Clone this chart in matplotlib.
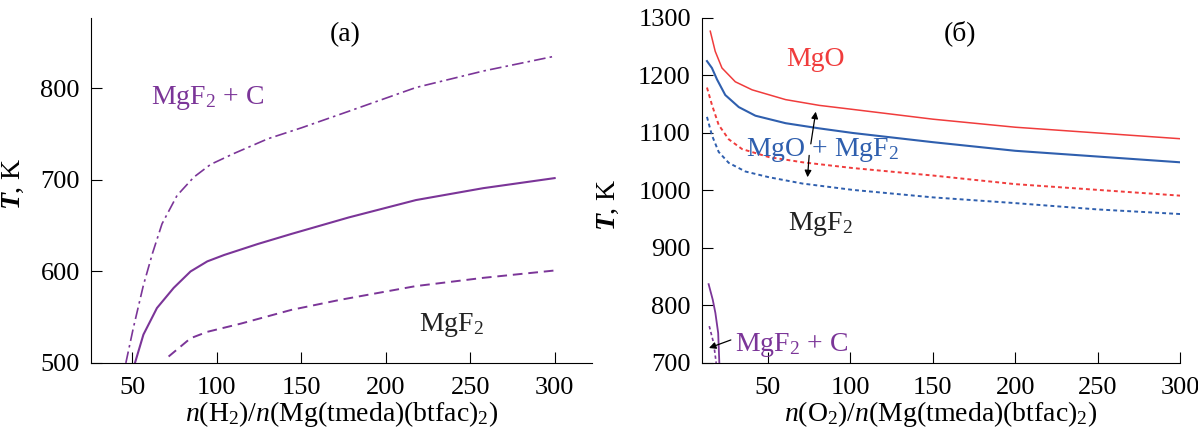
import numpy as np
import matplotlib
matplotlib.use('Agg')
import matplotlib.pyplot as plt

plt.rcParams['font.family'] = ['Liberation Serif', 'DejaVu Serif']
plt.rcParams['mathtext.fontset'] = 'custom'
plt.rcParams['mathtext.rm'] = 'Liberation Serif'
plt.rcParams['mathtext.it'] = 'Liberation Serif:italic'
plt.rcParams['mathtext.bf'] = 'Liberation Serif:italic:bold'
plt.rcParams['font.size'] = 20

PURPLE = '#7b3598'
RED = '#f03c3c'
BLUE = '#2f5fae'

# panel (a): H2
a_upper_x = [46.2, 50.6, 56.6, 62, 67.6, 76.5, 86.4, 96.4, 110.3, 130.3, 150.2, 178.1, 217.9, 257.7, 299.5]
a_upper_T = [500, 538, 585, 620, 652, 683, 703, 717, 729, 745, 757, 775, 801, 819, 835]
a_mid_x = [51.6, 56.6, 64.6, 74.5, 84.5, 94.4, 104.4, 124.3, 144.2, 178.1, 217.9, 257.7, 300]
a_mid_T = [500, 531, 560, 582, 600, 611, 618, 630, 641, 659, 678, 691, 702]
a_low_x = [71.5, 84.5, 94.4, 114.3, 144.2, 173.1, 217.9, 257.7, 299.8]
a_low_T = [507, 527, 534, 543, 558, 569, 584, 593, 601]

# panel (б): O2
b_mgo_x = [15.0, 18.0, 22.1, 30.2, 40.4, 60.7, 81.1, 101.4, 150, 200, 250, 300]
b_mgo_T = [1277, 1242, 1213, 1189, 1175, 1158, 1148, 1141, 1124, 1110, 1100, 1090]
b_mix_x = [13.0, 16.0, 19.1, 24.1, 32.3, 42.4, 60.7, 81.1, 101.4, 150, 200, 250, 300]
b_mix_T = [1225, 1213, 1193, 1166, 1145, 1130, 1117, 1108, 1100, 1084, 1069, 1059, 1049]
b_red_dot_x = [13.0, 16.0, 20.1, 26.2, 34.3, 50.6, 71.0, 101.4, 150, 200, 250, 300]
b_red_dot_T = [1179, 1149, 1114, 1089, 1072, 1058, 1049, 1039, 1026, 1011, 1001, 991]
b_blue_dot_x = [13.0, 16.0, 20.1, 26.2, 36.3, 50.6, 71.0, 101.4, 150, 200, 250, 300]
b_blue_dot_T = [1128, 1096, 1067, 1048, 1033, 1023, 1012, 1001, 988, 978, 967, 959]
b_c_x = [14, 16.5, 18.1, 19.8, 20.5]
b_c_T = [837, 810, 787, 752, 700]
b_c_dot_x = [14.4, 17, 18.6]
b_c_dot_T = [764, 735, 700]


def style(ax):
    for s in ['top', 'right']:
        ax.spines[s].set_visible(False)
    ax.tick_params(axis='both', direction='in', length=8, labelsize=19)
    ax.tick_params(axis='x', pad=10)
    ax.tick_params(axis='y', pad=8)


fig = plt.figure(figsize=(11.98, 4.28), dpi=100)
ax1 = fig.add_axes([0.076, 0.152, 0.418, 0.806])
ax2 = fig.add_axes([0.586, 0.152, 0.399, 0.806])

# (a)
ax1.plot(a_upper_x, a_upper_T, color=PURPLE, lw=1.2, dashes=(7, 2.5, 1.5, 2.5))
ax1.plot(a_mid_x, a_mid_T, color=PURPLE, lw=1.5)
ax1.plot(a_low_x, a_low_T, color=PURPLE, lw=1.4, dashes=(5, 3))
ax1.set_xlim(25.6, 322)
ax1.set_ylim(500, 877)
ax1.set_xticks([50, 100, 150, 200, 250, 300])
ax1.set_yticks([500, 600, 700, 800])
ax1.text(94.4, 790, 'MgF$_2$ + C', color=PURPLE, ha='center', va='center')
ax1.text(238.8, 542, 'MgF$_2$', color='#222222', ha='center', va='center')
ax1.text(176, 859, '(a)', ha='center', va='center')
ax1.set_xlabel('$n$(H$_2$)/$n$(Mg(tmeda)(btfac)$_2$)', labelpad=0)
ax1.set_ylabel(r'$\mathbf{T}$, K')
ax1.yaxis.set_label_coords(-0.13, 0.52)
style(ax1)

# (б)
ax2.plot(b_mgo_x, b_mgo_T, color=RED, lw=1.1)
ax2.plot(b_mix_x, b_mix_T, color=BLUE, lw=1.5)
ax2.plot(b_red_dot_x, b_red_dot_T, color=RED, lw=1.4, dashes=(2, 1.6))
ax2.plot(b_blue_dot_x, b_blue_dot_T, color=BLUE, lw=1.4, dashes=(2, 1.6))
ax2.plot(b_c_x, b_c_T, color=PURPLE, lw=1.3)
ax2.plot(b_c_dot_x, b_c_dot_T, color=PURPLE, lw=1.2, dashes=(2, 1.6))
ax2.set_xlim(10.0, 300)
ax2.set_ylim(700, 1300)
ax2.set_xticks([50, 100, 150, 200, 250, 300])
ax2.set_yticks([700, 800, 900, 1000, 1100, 1200, 1300])
ax2.text(78.8, 1227, 'MgO', color=RED, ha='center', va='center')
ax2.text(83, 1070, 'MgO + MgF$_2$', color=BLUE, ha='center', va='center')
ax2.text(81.7, 942, 'MgF$_2$', color='#222222', ha='center', va='center')
ax2.text(64, 732, 'MgF$_2$ + C', color=PURPLE, ha='center', va='center')
ax2.text(166.7, 1274, '(б)', ha='center', va='center')
arr = dict(arrowstyle='-|>', color='black', lw=0.9, mutation_scale=10, shrinkA=0, shrinkB=0)
ax2.annotate('', xy=(79.0, 1137), xytext=(76.0, 1081), arrowprops=arr)
ax2.annotate('', xy=(74.0, 1023), xytext=(75.0, 1061), arrowprops=arr)
ax2.annotate('', xy=(14.2, 726), xytext=(27.5, 740), arrowprops=arr)
ax2.set_xlabel('$n$(O$_2$)/$n$(Mg(tmeda)(btfac)$_2$)', labelpad=0)
ax2.set_ylabel(r'$\mathbf{T}$, K')
ax2.yaxis.set_label_coords(-0.17, 0.46)
style(ax2)

fig.savefig('out.png', dpi=100)
